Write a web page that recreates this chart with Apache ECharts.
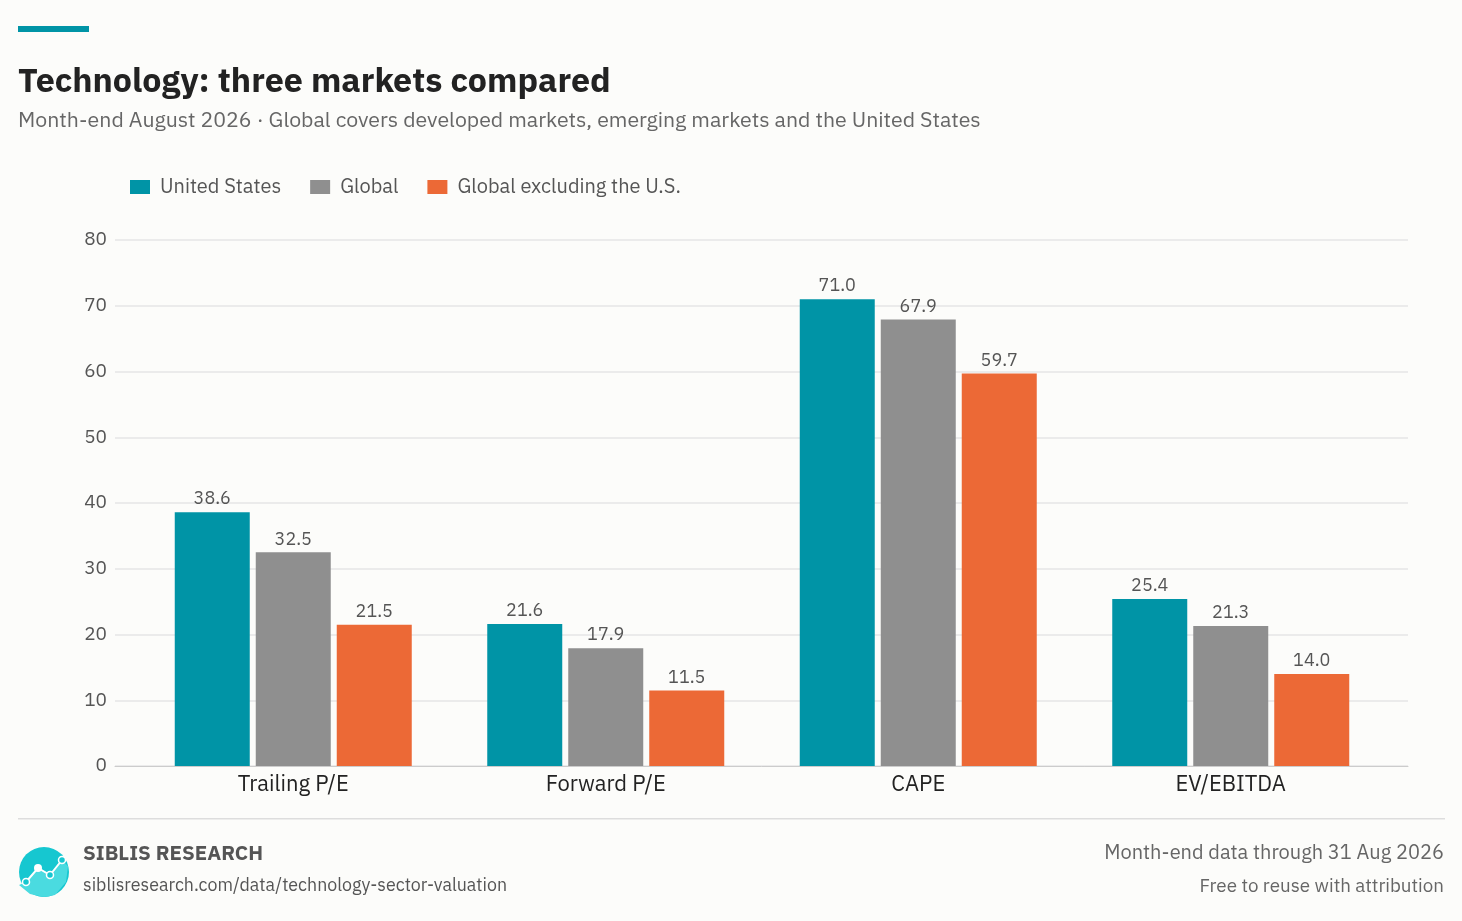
<!DOCTYPE html>
<html>
<head>
<meta charset="utf-8">
<title>Technology: three markets compared</title>
<script src="https://cdn.jsdelivr.net/npm/echarts@6/dist/echarts.min.js"></script>
<style>
  html, body { margin: 0; padding: 0; background: #fcfcfa; }
  #chart { width: 1462px; height: 921px; }
</style>
</head>
<body>
<div id="chart"></div>
<script>
var categories = ['Trailing P/E', 'Forward P/E', 'CAPE', 'EV/EBITDA'];
var usValues = [38.6, 21.6, 71.0, 25.4];
var globalValues = [32.5, 17.9, 67.9, 21.3];
var exUsValues = [21.5, 11.5, 59.7, 14.0];
var seriesNames = ['United States', 'Global', 'Global excluding the U.S.'];
var colors = ['#0094a6', '#8f8f8f', '#ec6936'];

var font = '"IBM Plex Sans", "Noto Sans", sans-serif';

function bar(name, data, color) {
  return {
    name: name, type: 'bar', data: data, barWidth: 75,
    xAxisIndex: 1, yAxisIndex: 1,
    itemStyle: { color: color },
    label: { show: true, position: 'top', distance: 4, color: '#555', fontSize: 18, fontFamily: font,
      formatter: function (p) { return p.value.toFixed(1); } }
  };
}

var chart = echarts.init(document.getElementById('chart'));
chart.setOption({
  backgroundColor: '#fcfcfa',
  textStyle: { fontFamily: font },
  color: colors,
  grid: [
    { left: 115, right: 54, top: 240, bottom: 155 },
    { left: 137, right: 75, top: 240, bottom: 155 }
  ],
  legend: {
    left: 130, top: 177, padding: 0, icon: 'rect', itemWidth: 20, itemHeight: 14, itemGap: 29,
    textStyle: { fontSize: 20, color: '#555', fontFamily: font, padding: [0, 0, 0, 5] },
    data: seriesNames
  },
  xAxis: [{
    type: 'category', data: [''], gridIndex: 0,
    axisLine: { lineStyle: { color: '#ccc' } },
    axisTick: { show: false }, axisLabel: { show: false }
  }, {
    type: 'category', data: categories, gridIndex: 1,
    axisLine: { show: false },
    axisTick: { show: false },
    axisLabel: { fontSize: 22, color: '#222', margin: 8, fontFamily: font }
  }],
  yAxis: [{
    type: 'value', min: 0, max: 80, interval: 10, gridIndex: 0,
    axisLine: { show: false }, axisTick: { show: false },
    splitLine: { lineStyle: { color: '#e6e6e6', width: 1.5 } },
    axisLabel: { fontSize: 19, color: '#555', margin: 8, fontFamily: font }
  }, {
    type: 'value', min: 0, max: 80, interval: 10, gridIndex: 1,
    axisLine: { show: false }, axisTick: { show: false },
    splitLine: { show: false }, axisLabel: { show: false }
  }],
  series: [
    bar(seriesNames[0], usValues, colors[0]),
    Object.assign(bar(seriesNames[1], globalValues, colors[1]), { barGap: '8%' }),
    bar(seriesNames[2], exUsValues, colors[2])
  ],
  graphic: [
    { type: 'rect', left: 18, top: 26, shape: { width: 71, height: 6 }, style: { fill: '#0094a6' } },
    { type: 'text', left: 18, top: 65, style: { text: 'Technology: three markets compared', font: 'bold 34px ' + font, fill: '#222' } },
    { type: 'text', left: 18, top: 110, style: { text: 'Month-end August 2026 · Global covers developed markets, emerging markets and the United States', font: '21.3px ' + font, fill: '#666' } },
    { type: 'rect', left: 18, top: 818, shape: { width: 1427, height: 1.5 }, style: { fill: '#ddd' } },
    { type: 'circle', shape: { cx: 44, cy: 872, r: 25 }, style: { fill: '#16c7d0' } },
    { type: 'polygon', shape: { points: [[19,885],[26,882],[38,868],[50,875],[62,860],[68,866],[66,882],[55,895],[44,897],[30,894]] }, style: { fill: '#4adbe0' } },
    { type: 'polyline', shape: { points: [[26,882],[38,868],[50,875],[62,860]] }, style: { stroke: '#fff', lineWidth: 2, fill: null } },
    { type: 'circle', shape: { cx: 26, cy: 882, r: 3.5 }, style: { fill: '#16c7d0', stroke: '#fff', lineWidth: 1.5 } },
    { type: 'circle', shape: { cx: 38, cy: 868, r: 4 }, style: { fill: '#fff' } },
    { type: 'circle', shape: { cx: 50, cy: 875, r: 3.5 }, style: { fill: '#16c7d0', stroke: '#fff', lineWidth: 1.5 } },
    { type: 'circle', shape: { cx: 62, cy: 860, r: 3.5 }, style: { fill: '#16c7d0', stroke: '#fff', lineWidth: 1.5 } },
    { type: 'text', left: 83, top: 844, style: { text: 'SIBLIS RESEARCH', font: 'bold 20.5px ' + font, fill: '#555' } },
    { type: 'text', left: 83, top: 877, style: { text: 'siblisresearch.com/data/technology-sector-valuation', font: '17.8px ' + font, fill: '#555' } },
    { type: 'text', right: 18, top: 843, style: { text: 'Month-end data through 31 Aug 2026', font: '20px ' + font, fill: '#666', align: 'right' } },
    { type: 'text', right: 18, top: 877, style: { text: 'Free to reuse with attribution', font: '18.8px ' + font, fill: '#666', align: 'right' } }
  ]
});
</script>
</body>
</html>
